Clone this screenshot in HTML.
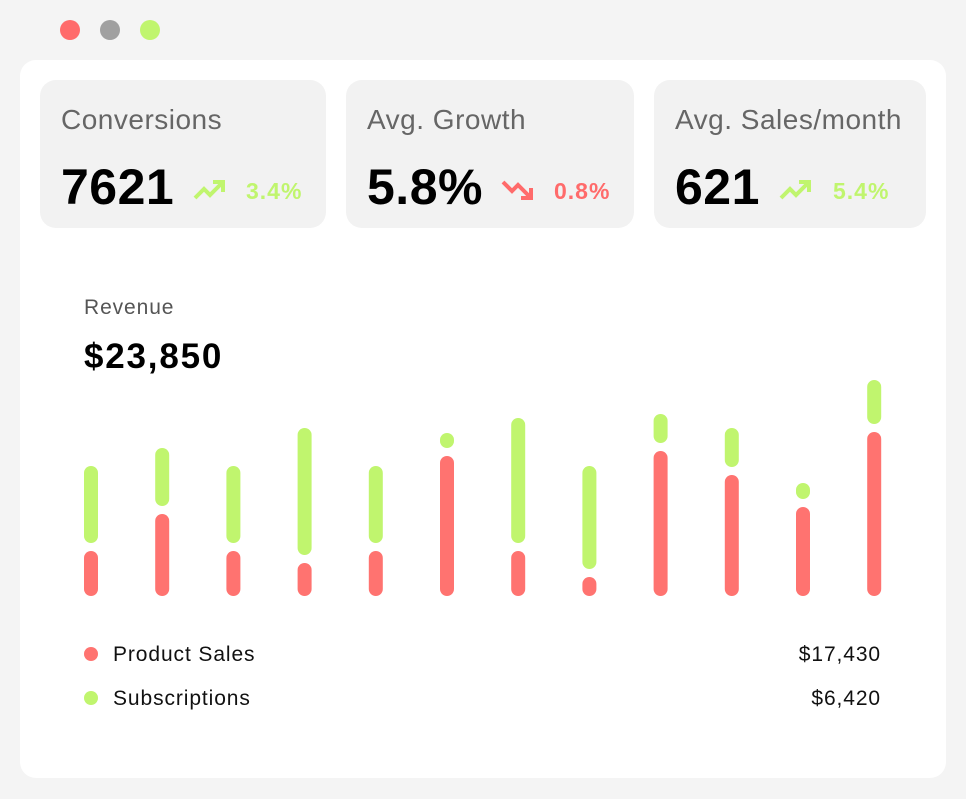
<!DOCTYPE html>
<html><head><meta charset="utf-8"><style>
body{margin:0;width:966px;height:799px;background:#f4f4f4;font-family:"Liberation Sans",sans-serif;position:relative;overflow:hidden}
.dot{position:absolute;top:20px;width:20px;height:20px;border-radius:50%}
.win{position:absolute;left:20px;top:60px;width:926px;height:718px;background:#fff;border-radius:16px}
.card{position:absolute;top:80px;height:148px;background:#f2f2f2;border-radius:16px}
.card .t{position:absolute;left:21px;top:24px;font-size:28px;color:#666;letter-spacing:0.5px}
.card .v{position:absolute;left:21px;top:78px;font-size:50px;font-weight:bold;color:#000;letter-spacing:0.5px}
.card .p{position:absolute;top:98px;font-size:23px;font-weight:bold;letter-spacing:1px}
.card svg{position:absolute;top:98px}
.lab{position:absolute;font-size:21px;color:#111;letter-spacing:0.9px}
</style></head><body>
<div class="dot" style="left:60px;background:#ff6b6b"></div>
<div class="dot" style="left:100px;background:#a0a0a0"></div>
<div class="dot" style="left:140px;background:#c0f56e"></div>
<div class="win"></div>

<div class="card" style="left:40px;width:286px">
<div class="t">Conversions</div>
<div class="v">7621</div>
<svg width="34" height="24" style="left:153px"><polyline points="2,20 11,11 17,17 30,4" fill="none" stroke="#c0f56e" stroke-width="4"/><polyline points="20,4 30,4 30,14" fill="none" stroke="#c0f56e" stroke-width="4"/></svg>
<div class="p" style="left:206px;color:#c0f56e">3.4%</div>
</div>
<div class="card" style="left:346px;width:288px">
<div class="t">Avg. Growth</div>
<div class="v">5.8%</div>
<svg width="34" height="24" style="left:155px"><polyline points="2,4 11,13 17,7 30,20" fill="none" stroke="#ff6b6b" stroke-width="4"/><polyline points="20,20 30,20 30,10" fill="none" stroke="#ff6b6b" stroke-width="4"/></svg>
<div class="p" style="left:208px;color:#ff6b6b">0.8%</div>
</div>
<div class="card" style="left:654px;width:272px">
<div class="t">Avg. Sales/month</div>
<div class="v">621</div>
<svg width="34" height="24" style="left:125px"><polyline points="2,20 11,11 17,17 30,4" fill="none" stroke="#c0f56e" stroke-width="4"/><polyline points="20,4 30,4 30,14" fill="none" stroke="#c0f56e" stroke-width="4"/></svg>
<div class="p" style="left:179px;color:#c0f56e">5.4%</div>
</div>

<div class="lab" style="left:84px;top:296px;color:#555">Revenue</div>
<div style="position:absolute;left:84px;top:337px;font-size:35px;font-weight:bold;letter-spacing:1.8px">$23,850</div>

<svg id="chart" width="966" height="799" style="position:absolute;left:0;top:0"></svg>

<div style="position:absolute;left:84px;top:647px;width:14px;height:14px;border-radius:50%;background:#ff7370"></div>
<div class="lab" style="left:113px;top:643px">Product Sales</div>
<div class="lab" style="right:85px;top:643px">$17,430</div>
<div style="position:absolute;left:84px;top:691px;width:14px;height:14px;border-radius:50%;background:#c0f56e"></div>
<div class="lab" style="left:113px;top:687px">Subscriptions</div>
<div class="lab" style="right:85px;top:687px">$6,420</div>

<script>
const months=["Jan","Feb","Mar","Apr","May","Jun","Jul","Aug","Sep","Oct","Nov","Dec"];
const productSales=[45,82,45,33,45,140,45,19,145,121,89,164];
const subscriptions=[77,58,77,127,77,15,125,103,29,39,16,44];
const svg=document.getElementById('chart');
const ns='http://www.w3.org/2000/svg';
const x0=91,step=71.2,base=596,bw=14,gap=8;
function xS(i){return x0+i*step;}
function hS(v){return v*1;}
function rect(x,y,h,c,name){
  const r=document.createElementNS(ns,'rect');
  r.setAttribute('x',x-bw/2);r.setAttribute('y',y);r.setAttribute('width',bw);r.setAttribute('height',h);
  r.setAttribute('rx',7);r.setAttribute('fill',c);
  
  
  svg.appendChild(r);
}
months.forEach((m,i)=>{
  const rh=hS(productSales[i]);
  rect(xS(i),base-rh,rh,'#ff7370','product-bar-'+m.toLowerCase());
  const gh=hS(subscriptions[i]);
  rect(xS(i),base-rh-gap-gh,gh,'#c0f56e','subscription-bar-'+m.toLowerCase());
});
</script>
</body></html>
